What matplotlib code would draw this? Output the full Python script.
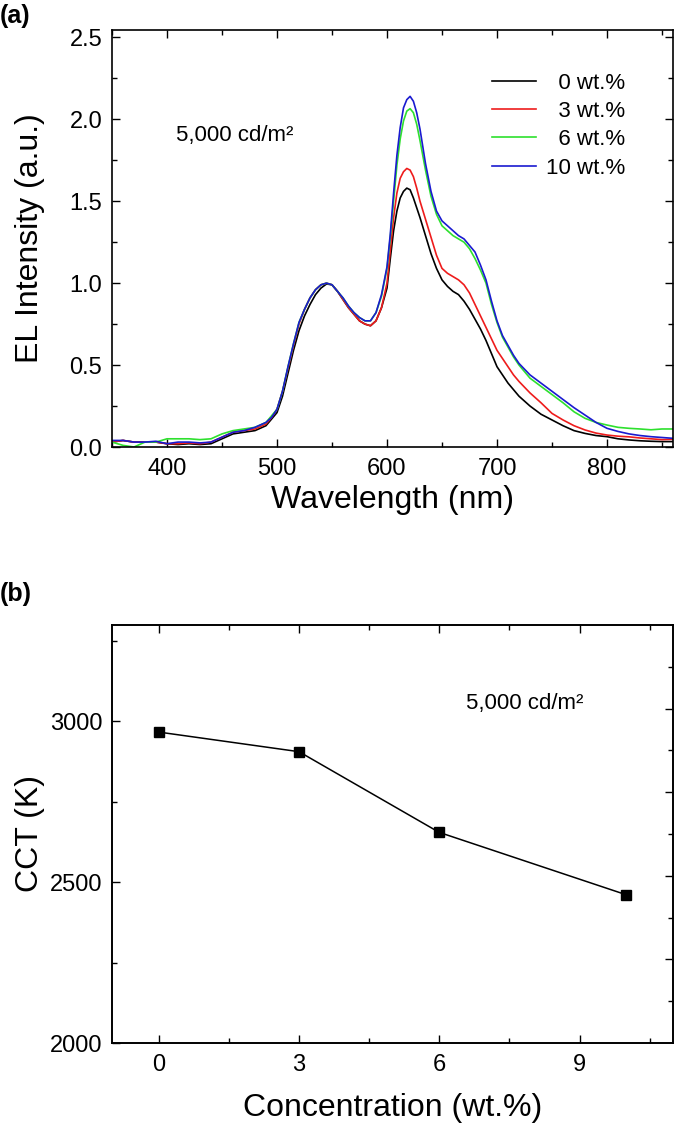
import numpy as np
import matplotlib
matplotlib.use("Agg")
import matplotlib.pyplot as plt
from matplotlib.ticker import MultipleLocator, FixedLocator, NullFormatter

plt.rcParams['font.family'] = ['Liberation Sans', 'DejaVu Sans']

# === Data: EL spectra at 5,000 cd/m2 ===
wavelength = [350, 360, 370, 380, 390, 400, 410, 420, 430, 440, 450, 460, 470, 480, 490,
              495, 500, 505, 510, 515, 520, 525, 530, 535, 540, 545, 550, 555, 560, 565,
              570, 575, 580, 585, 590, 595,
              600, 603, 606, 609, 612, 615, 618, 621, 624, 627,
              630, 635, 640, 645, 650, 655, 660, 665, 670, 675, 680, 685, 690, 695, 700,
              705, 710, 715, 720,
              730, 740, 750, 760, 770, 780, 790, 800, 810, 820, 830, 840, 850, 860]

el_0wt = [0.03, 0.04, 0.03, 0.03, 0.03, 0.02, 0.015, 0.02, 0.015, 0.02, 0.05, 0.08, 0.09, 0.10, 0.13,
          0.17, 0.21, 0.31, 0.45, 0.59, 0.71, 0.80, 0.87, 0.93, 0.97, 0.995, 0.99, 0.95, 0.90, 0.85,
          0.81, 0.77, 0.75, 0.74, 0.77, 0.85,
          0.97, 1.15, 1.32, 1.44, 1.52, 1.56, 1.58, 1.57, 1.52, 1.46,
          1.40, 1.29, 1.18, 1.09, 1.02, 0.98, 0.95, 0.93, 0.89, 0.84, 0.78, 0.72, 0.65, 0.57, 0.49,
          0.44, 0.39, 0.35, 0.31,
          0.25, 0.20, 0.165, 0.13, 0.10, 0.083, 0.07, 0.063, 0.05, 0.043, 0.038, 0.035, 0.033, 0.033]

el_3wt = [0.03, 0.04, 0.03, 0.03, 0.03, 0.02, 0.02, 0.025, 0.02, 0.03, 0.06, 0.09, 0.10, 0.11, 0.14,
          0.18, 0.23, 0.34, 0.48, 0.62, 0.75, 0.84, 0.91, 0.96, 0.99, 1.00, 0.99, 0.95, 0.90, 0.85,
          0.81, 0.77, 0.75, 0.74, 0.77, 0.85,
          1.00, 1.20, 1.40, 1.55, 1.64, 1.68, 1.70, 1.69, 1.65, 1.58,
          1.50, 1.39, 1.28, 1.17, 1.09, 1.06, 1.04, 1.02, 0.99, 0.94, 0.87, 0.80, 0.73, 0.66, 0.59,
          0.54, 0.49, 0.44, 0.40,
          0.33, 0.27, 0.205, 0.165, 0.13, 0.104, 0.085, 0.073, 0.066, 0.062, 0.055, 0.05, 0.045, 0.047]

el_6wt = [0.03, 0.01, 0.0, 0.03, 0.03, 0.05, 0.05, 0.05, 0.045, 0.05, 0.08, 0.10, 0.11, 0.12, 0.15,
          0.19, 0.23, 0.34, 0.49, 0.63, 0.76, 0.84, 0.91, 0.96, 0.99, 1.00, 0.99, 0.95, 0.91, 0.86,
          0.82, 0.79, 0.77, 0.77, 0.82, 0.92,
          1.09, 1.28, 1.50, 1.72, 1.88, 1.99, 2.05, 2.065, 2.04, 1.97,
          1.87, 1.69, 1.53, 1.42, 1.35, 1.32, 1.29, 1.27, 1.25, 1.21, 1.15, 1.08, 1.00, 0.87, 0.76,
          0.67, 0.61, 0.55, 0.50,
          0.42, 0.37, 0.32, 0.27, 0.215, 0.175, 0.15, 0.134, 0.12, 0.114, 0.11, 0.105, 0.11, 0.11]

el_10wt = [0.04, 0.04, 0.03, 0.03, 0.035, 0.02, 0.03, 0.03, 0.025, 0.03, 0.06, 0.09, 0.10, 0.12, 0.15,
           0.18, 0.23, 0.34, 0.49, 0.63, 0.76, 0.84, 0.91, 0.96, 0.99, 1.00, 0.99, 0.95, 0.91, 0.86,
           0.82, 0.79, 0.77, 0.77, 0.82, 0.93,
           1.10, 1.30, 1.55, 1.78, 1.95, 2.07, 2.12, 2.14, 2.11, 2.04,
           1.94, 1.73, 1.56, 1.44, 1.38, 1.35, 1.32, 1.29, 1.27, 1.23, 1.19, 1.11, 1.02, 0.89, 0.77,
           0.68, 0.62, 0.56, 0.51,
           0.44, 0.39, 0.34, 0.29, 0.24, 0.195, 0.15, 0.114, 0.095, 0.08, 0.07, 0.063, 0.058, 0.053]

series_labels = ["\u20070 wt.%", "\u20073 wt.%", "\u20076 wt.%", "10 wt.%"]
series_colors = ["black", "#ee1c1c", "#2ee02e", "#1a1ad0"]

# === Data: CCT vs concentration ===
concentration = [0, 3, 6, 10]
cct = [2967, 2906, 2655, 2461]

fig = plt.figure(figsize=(6.75, 11.26), dpi=100)
W, H = 675.0, 1126.0
ax1 = fig.add_axes([112 / W, 1 - 447 / H, 561 / W, 417 / H])
ax2 = fig.add_axes([112 / W, 1 - 1043 / H, 561 / W, 418 / H])

tick_fs = 17
label_fs = 23

def style_axes(ax):
    for s in ax.spines.values():
        s.set_linewidth(1.2)
    ax.tick_params(which="both", direction="in", top=True, right=True, width=1.0,
                   labelsize=tick_fs)
    ax.tick_params(which="major", length=6)
    ax.tick_params(which="minor", length=3.3)
    ax.tick_params(axis="x", pad=8)
    ax.tick_params(axis="y", pad=7)

# --- (a) spectra ---
spectra = [el_0wt, el_3wt, el_6wt, el_10wt]
for vals, lab, col in zip(spectra, series_labels, series_colors):
    ax1.plot(wavelength, vals, color=col, lw=1.2, label=lab)

ax1.set_xlim(350, 860)
ax1.set_ylim(0, 2.545)
ax1.xaxis.set_major_locator(MultipleLocator(100))
ax1.xaxis.set_minor_locator(MultipleLocator(50))
ax1.yaxis.set_major_locator(MultipleLocator(0.5))
ax1.yaxis.set_minor_locator(MultipleLocator(0.25))
style_axes(ax1)
ax1.set_xlabel("Wavelength (nm)", fontsize=label_fs)
ax1.set_ylabel("EL Intensity (a.u.)", fontsize=label_fs)
ax1.xaxis.set_label_coords(0.5, -0.09)
ax1.yaxis.set_label_coords(-0.12, 0.5)
ax1.text(408, 1.87, "5,000 cd/m\u00b2", fontsize=16, va="baseline")

leg = ax1.legend(loc="upper right", bbox_to_anchor=(0.915, 0.898), frameon=False,
                 fontsize=16, handlelength=2.0, handletextpad=0.45,
                 labelspacing=0.33, borderpad=0, borderaxespad=0)

# --- (b) CCT ---
ax2.plot(concentration, cct, color="black", lw=1.1, marker="s", markersize=7)
ax2.set_xlim(-1, 11)
ax2.set_ylim(2000, 3300)
ax2.xaxis.set_major_locator(MultipleLocator(3))
ax2.xaxis.set_minor_locator(MultipleLocator(1.5))
ax2.yaxis.set_major_locator(MultipleLocator(500))
ax2.yaxis.set_minor_locator(MultipleLocator(250))
style_axes(ax2)
ax2.tick_params(which="both", right=False)
ax2.set_xlabel("Concentration (wt.%)", fontsize=label_fs)
ax2.set_ylabel("CCT (K)", fontsize=label_fs)
ax2.xaxis.set_label_coords(0.5, -0.12)
ax2.yaxis.set_label_coords(-0.12, 0.5)
ax2.text(6.57, 3040, "5,000 cd/m\u00b2", fontsize=16, va="baseline")

# right axis of (b) carries its own evenly split ticks
rax = ax2.twinx()
rax.set_ylim(0, 10)
rax.yaxis.set_major_locator(FixedLocator([2, 4, 6, 8]))
rax.yaxis.set_minor_locator(FixedLocator([1, 3, 5, 7, 9]))
rax.yaxis.set_major_formatter(NullFormatter())
rax.tick_params(which="both", direction="in", width=1.0)
rax.tick_params(which="major", length=6)
rax.tick_params(which="minor", length=3.3)
for s in rax.spines.values():
    s.set_linewidth(1.2)

fig.text(0.0, 1 - 16 / H, "(a)", fontsize=18, fontweight="bold", va="center", ha="left")
fig.text(0.0, 1 - 594 / H, "(b)", fontsize=18, fontweight="bold", va="center", ha="left")

fig.savefig("out.png", dpi=100)
